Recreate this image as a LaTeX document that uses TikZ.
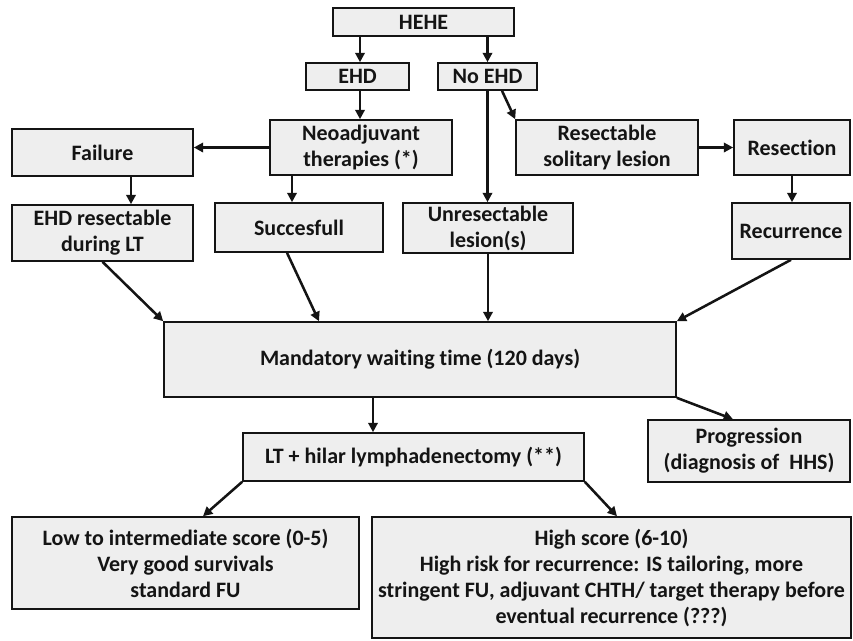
\documentclass[tikz,border=0pt]{standalone}
\usepackage{fontspec}
\setmainfont{Carlito}[Ligatures={NoCommon}]
\usetikzlibrary{arrows.meta}
\definecolor{boxfill}{RGB}{238,238,238}
\definecolor{ink}{RGB}{20,20,20}
\tikzset{
  bx/.style 2 args={draw=ink, fill=boxfill, line width=1.2pt, inner sep=0pt,
    minimum width=#1*0.75pt, minimum height=#2*0.75pt, align=center,
    text=ink, font=\fontsize{16.5}{19.5}\selectfont\bfseries},
  arr/.style={draw=ink, line width=1.9pt, -{Triangle[length=7pt,width=7pt]}}
}
\begin{document}
\begin{tikzpicture}[x=0.75pt,y=-0.75pt]
\useasboundingbox (0,0) rectangle (853,640);
% nodes
\node[bx={181}{28}] (hehe) at (423.5,22) {HEHE};
\node[bx={103}{27}] (ehd) at (357.5,76.5) {EHD};
\node[bx={99}{27}] (noehd) at (487.5,76.5) {No EHD};
\node[bx={182}{55}] (neo) at (361,147.5) {Neoadjuvant\\therapies (*)};
\node[bx={181}{47}] (fail) at (102.5,152.5) {Failure};
\node[bx={182}{55}] (res) at (607,147.5) {Resectable\\solitary lesion};
\node[bx={116}{55}] (resect) at (792,147.5) {Resection};
\node[bx={181}{56}] (ehdres) at (102.5,233) {EHD resectable\\during LT};
\node[bx={168}{49}] (succ) at (299,227.5) {Succesfull};
\node[bx={170}{50}] (unres) at (488,228) {Unresectable\\lesion(s)};
\node[bx={118}{56}] (recur) at (791,231) {Recurrence};
\node[bx={512}{75}] (mand) at (420,359.5) {Mandatory waiting time (120 days)};
\node[bx={341}{48}] (lt) at (413.5,457) {LT + hilar lymphadenectomy (**)};
\node[bx={202}{62}] (prog) at (749,451) {Progression\\(diagnosis of~ HHS)};
\node[bx={347}{92}] (low) at (185.5,563) {Low to intermediate score (0-5)\\Very good survivals\\standard FU};
\node[bx={479}{121}] (high) at (611.5,577.5) {High score (6-10)\\High risk for recurrence: IS tailoring, more\\stringent FU, adjuvant CHTH/ target therapy before\\eventual recurrence (???)};
% helper coordinates for off-centre connector ends
\coordinate (xa) at (131,0);
\coordinate (xb) at (292,0);
\coordinate (xc) at (502,0);
\coordinate (xd) at (287,0);
\coordinate (xe) at (319,0);
\coordinate (xf) at (373,0);
\coordinate (xg) at (733,0);
\coordinate (xh) at (203,0);
\coordinate (xi) at (617,0);
\coordinate (xj) at (360,0);
% connectors
\draw[arr] (hehe.south -| xj) -- (ehd.north -| xj);
\draw[arr] (hehe.south -| noehd.north) -- (noehd.north);
\draw[arr] (ehd.south -| xj) -- (neo.north -| xj);
\draw[arr] (neo.west) -- (neo.west -| fail.east);
\draw[arr] (fail.south -| xa) -- (ehdres.north -| xa);
\draw[arr] (neo.south -| xb) -- (succ.north -| xb);
\draw[arr] (noehd.south) -- (noehd.south |- unres.north);
\draw[arr] (noehd.south -| xc) -- (res.north west);
\draw[arr] (res.east) -- (resect.west);
\draw[arr] (resect.south) -- (resect.south |- recur.north);
\draw[arr] (ehdres.south) -- (mand.north west);
\draw[arr] (succ.south -| xd) -- (mand.north -| xe);
\draw[arr] (unres.south) -- (unres.south |- mand.north);
\draw[arr] (recur.south) -- (mand.north east);
\draw[arr] (mand.south -| xf) -- (lt.north -| xf);
\draw[arr] (mand.south east) -- (prog.north -| xg);
\draw[arr] (lt.south west) -- (low.north -| xh);
\draw[arr] (lt.south east) -- (high.north -| xi);
\end{tikzpicture}
\end{document}
